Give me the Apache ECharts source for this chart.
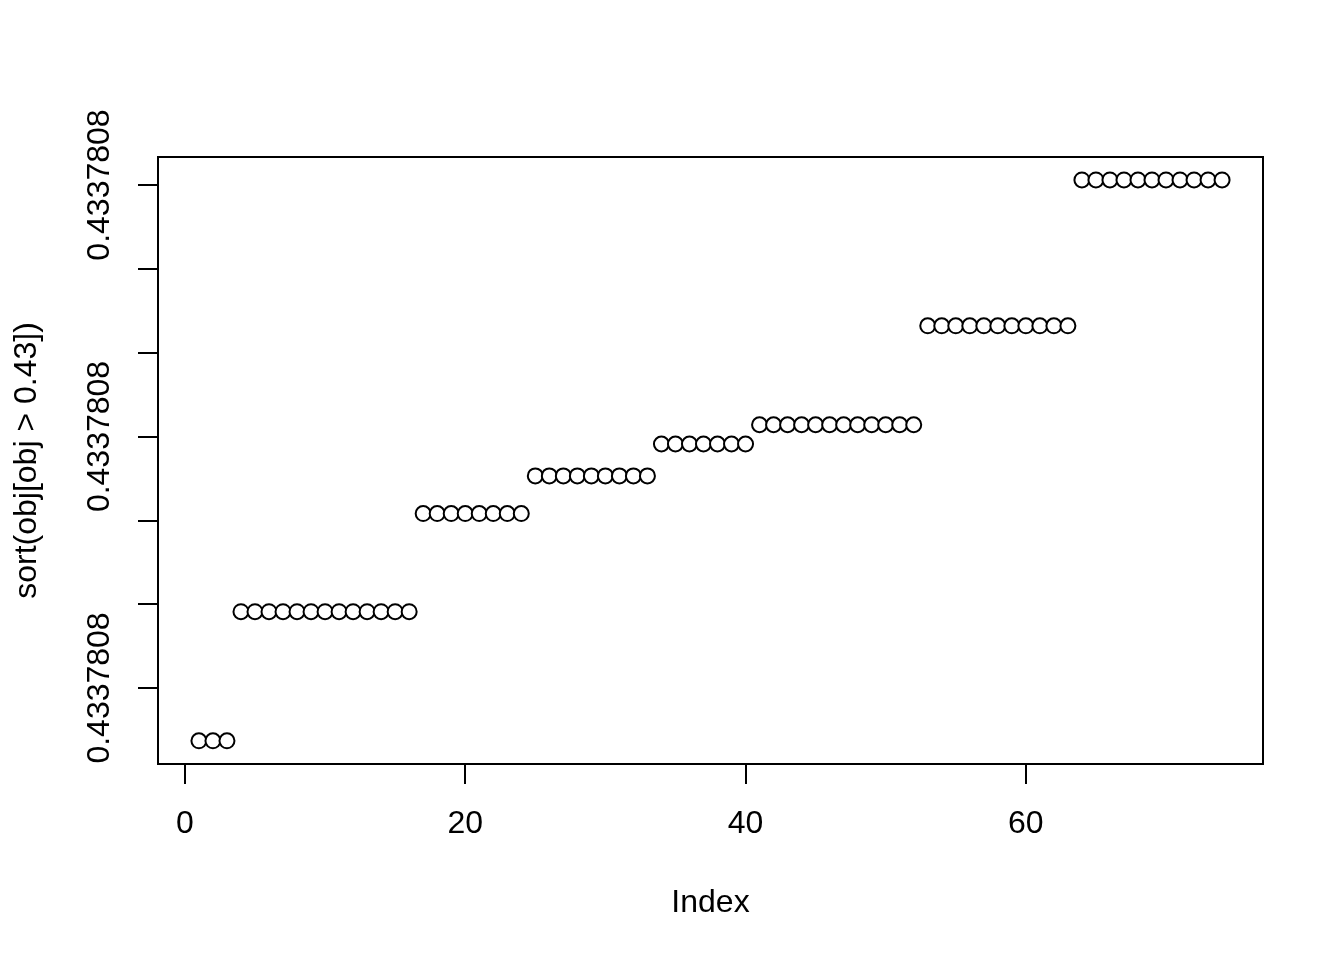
<!DOCTYPE html>
<html>
<head>
<meta charset="utf-8">
<script src="https://cdn.jsdelivr.net/npm/echarts@6/dist/echarts.min.js"></script>
<style>html,body{margin:0;padding:0;background:#fff}#c{width:1344px;height:960px}</style>
</head>
<body>
<div id="c"></div>
<script>
// Sorted values, expressed in units of the y-axis tick step (tick 0 = lowest labelled tick)
var values = [
  -0.63, -0.63, -0.63,
  0.91, 0.91, 0.91, 0.91, 0.91, 0.91, 0.91, 0.91, 0.91, 0.91, 0.91, 0.91, 0.91,
  2.08, 2.08, 2.08, 2.08, 2.08, 2.08, 2.08, 2.08,
  2.53, 2.53, 2.53, 2.53, 2.53, 2.53, 2.53, 2.53, 2.53,
  2.91, 2.91, 2.91, 2.91, 2.91, 2.91, 2.91,
  3.14, 3.14, 3.14, 3.14, 3.14, 3.14, 3.14, 3.14, 3.14, 3.14, 3.14, 3.14,
  4.32, 4.32, 4.32, 4.32, 4.32, 4.32, 4.32, 4.32, 4.32, 4.32, 4.32,
  6.06, 6.06, 6.06, 6.06, 6.06, 6.06, 6.06, 6.06, 6.06, 6.06, 6.06
];
var xTicks = [0, 20, 40, 60];
var yTicks = [0, 1, 2, 3, 4, 5, 6];
var yLabelTicks = [0, 3, 6];
var yTickLabels = ['0.4337808', '0.4337808', '0.4337808'];

var data = values.map(function (v, i) { return [i + 1, v]; });
var FONT = '"Liberation Sans", Arial, Helvetica, sans-serif';

var chart = echarts.init(document.getElementById('c'), null, {renderer: 'canvas'});
chart.setOption({
  animation: false,
  backgroundColor: '#ffffff',
  grid: {left: 158, right: 81, top: 157, bottom: 196, show: true, borderColor: '#000', borderWidth: 2, backgroundColor: 'transparent'},
  xAxis: {
    type: 'value', min: -1.92, max: 76.92,
    name: 'Index', nameLocation: 'middle', nameGap: 123,
    nameTextStyle: {fontFamily: FONT, fontSize: 32, color: '#000'},
    splitLine: {show: false},
    axisLine: {show: false, onZero: false},
    axisTick: {show: true, inside: false, length: 20, customValues: xTicks, lineStyle: {color: '#000', width: 2}},
    axisLabel: {customValues: xTicks, fontFamily: FONT, fontSize: 32, color: '#000', margin: 44}
  },
  yAxis: {
    type: 'value', min: -0.907, max: 6.334,
    name: 'sort(obj[obj > 0.43])', nameLocation: 'middle', nameGap: 115, nameRotate: 90,
    nameTextStyle: {fontFamily: FONT, fontSize: 32, color: '#000'},
    splitLine: {show: false},
    axisLine: {show: false, onZero: false},
    axisTick: {show: true, inside: false, length: 20, customValues: yTicks, lineStyle: {color: '#000', width: 2}},
    axisLabel: {
      customValues: yLabelTicks, rotate: 90, fontFamily: FONT, fontSize: 32, color: '#000', margin: 42,
      formatter: function (v) {
        var idx = yLabelTicks.indexOf(Math.round(v));
        return idx >= 0 ? yTickLabels[idx] : '';
      }
    }
  },
  series: [{
    type: 'scatter',
    data: data,
    symbol: 'emptyCircle',
    symbolSize: 15,
    itemStyle: {color: '#000', borderColor: '#000', borderWidth: 2, opacity: 1},
    emphasis: {disabled: true}
  }]
});
</script>
</body>
</html>
